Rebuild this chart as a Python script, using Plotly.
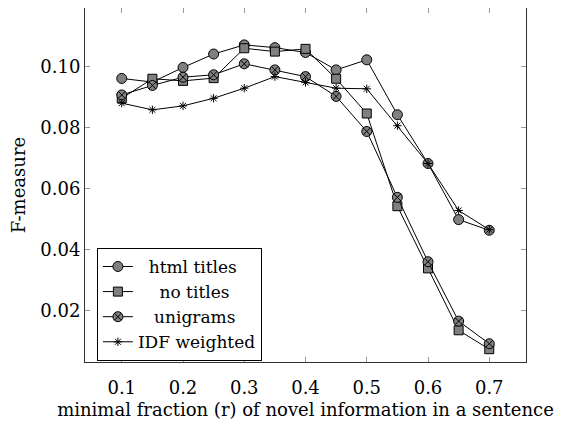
import plotly.graph_objects as go

r_values = [0.1, 0.15, 0.2, 0.25, 0.3, 0.35, 0.4, 0.45, 0.5, 0.55, 0.6, 0.65, 0.7]
html_titles = [0.0962, 0.0950, 0.0998, 0.1042, 0.1072, 0.1063, 0.1047, 0.0990, 0.1023, 0.0843, 0.0683, 0.0499, 0.0464]
no_titles = [0.0897, 0.0961, 0.0954, 0.0963, 0.1061, 0.1050, 0.1059, 0.0961, 0.0847, 0.0543, 0.0339, 0.0136, 0.0074]
unigrams = [0.0908, 0.0939, 0.0966, 0.0974, 0.1010, 0.0990, 0.0968, 0.0903, 0.0788, 0.0572, 0.0361, 0.0166, 0.0092]
idf_weighted = [0.0881, 0.0859, 0.0872, 0.0897, 0.0930, 0.0968, 0.0949, 0.0930, 0.0928, 0.0807, 0.0683, 0.0529, 0.0466]
x_ticks = [0.1, 0.2, 0.3, 0.4, 0.5, 0.6, 0.7]
y_ticks = [0.02, 0.04, 0.06, 0.08, 0.10]
y_tick_labels = ["0.02", "0.04", "0.06", "0.08", "0.10"]

FONT = "DejaVu Serif"
FS = 18
GREY = "rgb(128,128,128)"
NB = "\u00a0"

series = [
    ("html titles", NB * 2, html_titles, "circle", GREY, 10),
    ("no titles", NB * 4, no_titles, "square", GREY, 9),
    ("unigrams", NB * 3, unigrams, "circle-x", GREY, 10),
    ("IDF weighted", "", idf_weighted, "asterisk-open", "black", 7),
]

fig = go.Figure()
for name, pad, vals, sym, fill, size in series:
    fig.add_trace(go.Scatter(
        x=r_values, y=vals, name=pad + name, mode="lines+markers",
        line=dict(color="black", width=1),
        marker=dict(symbol=sym, size=size, color=fill,
                    line=dict(color="black", width=1)),
    ))

axis_common = dict(
    showgrid=False, zeroline=False, showline=True, linecolor="#333333",
    linewidth=1, mirror="ticks", ticks="inside", ticklen=5,
    tickcolor="#999999", tickfont=dict(family=FONT, size=FS, color="black"),
)

fig.update_layout(
    width=555, height=421,
    margin=dict(l=77, r=37, t=0, b=67, pad=0),
    paper_bgcolor="white", plot_bgcolor="white",
    font=dict(family=FONT, size=FS, color="black"),
    xaxis=dict(range=[0.04, 0.76], tickvals=x_ticks,
               ticktext=[f"{v:.1f}" for v in x_ticks],
               ticklabelstandoff=9,
               title=dict(text="minimal fraction (r) of novel information in a sentence",
                          font=dict(family=FONT, size=FS), standoff=6),
               **axis_common),
    yaxis=dict(range=[0.0032, 0.1193], tickvals=y_ticks, ticktext=y_tick_labels,
               title=dict(text="F-measure", font=dict(family=FONT, size=FS), standoff=10),
               **axis_common),
    legend=dict(x=0.027, y=0.003, xanchor="left", yanchor="bottom",
                bordercolor="black", borderwidth=1, bgcolor="white",
                font=dict(family=FONT, size=17), tracegroupgap=0),
    showlegend=True,
)

fig.write_html("out.html")
